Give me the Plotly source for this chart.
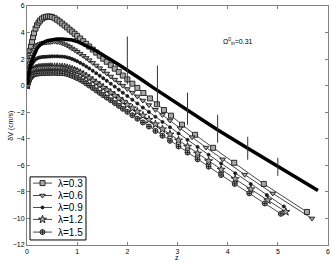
import plotly.graph_objects as go

# shared early sampling of z (dense near the origin)
z_early = [0, 0.01, 0.02, 0.03, 0.04, 0.05, 0.065, 0.08, 0.1, 0.12, 0.14, 0.17, 0.2, 0.23,
           0.26, 0.3, 0.34, 0.38, 0.42, 0.46, 0.5, 0.55, 0.6, 0.65, 0.7, 0.75, 0.8, 0.85,
           0.9, 0.95, 1.0, 1.06, 1.12, 1.18, 1.24, 1.31, 1.38, 1.45, 1.52, 1.59, 1.67,
           1.75, 1.83, 1.91]

# lambda = 0.3
z_03_tail = [2.0, 2.1, 2.2, 2.32, 2.45, 2.59, 2.73, 2.87, 3.09, 3.35, 3.71, 4.13, 4.72, 5.58]
dv_03 = [0, 0.6, 1.1, 1.55, 1.95, 2.25, 2.65, 2.95, 3.3, 3.65, 3.95, 4.3, 4.55, 4.75,
         4.9, 5.05, 5.14, 5.19, 5.21, 5.2, 5.17, 5.08, 4.96, 4.83, 4.68, 4.53, 4.38, 4.22,
         4.07, 3.91, 3.75, 3.55, 3.35, 3.15, 2.95, 2.72, 2.49, 2.26, 2.03, 1.8, 1.54,
         1.28, 1.02, 0.76,
         0.47, 0.15, -0.17, -0.55, -0.96, -1.40, -1.83, -2.26, -2.94, -3.7, -4.68, -5.81, -7.4, -9.51]

# lambda = 0.6
z_06_tail = [2.0, 2.1, 2.2, 2.31, 2.43, 2.56, 2.7, 2.85, 3.05, 3.29, 3.57, 3.9, 4.34, 4.9, 5.68]
dv_06 = [0, 0.45, 0.85, 1.18, 1.45, 1.68, 1.95, 2.17, 2.4, 2.58, 2.72, 2.88, 3.0, 3.08,
         3.14, 3.2, 3.24, 3.25, 3.27, 3.28, 3.31, 3.32, 3.3, 3.26, 3.2, 3.12, 3.03, 2.92,
         2.8, 2.68, 2.56, 2.41, 2.25, 2.09, 1.92, 1.72, 1.52, 1.32, 1.12, 0.92, 0.69,
         0.46, 0.23, 0.0,
         -0.25, -0.53, -0.81, -1.12, -1.46, -1.82, -2.2, -2.62, -3.2, -3.88, -4.66, -5.55, -6.7, -8.12, -10.0]

# lambda = 0.9
z_09_tail = [2.0, 2.1, 2.2, 2.31, 2.43, 2.56, 2.7, 2.85, 3.02, 3.2, 3.4, 3.62, 3.87, 4.15, 4.46, 4.78, 5.12]
dv_09 = [0, 0.3, 0.55, 0.77, 0.95, 1.1, 1.3, 1.46, 1.63, 1.76, 1.86, 1.97, 2.05, 2.1,
         2.13, 2.16, 2.17, 2.18, 2.19, 2.2, 2.21, 2.21, 2.21, 2.2, 2.19, 2.17, 2.13, 2.08,
         2.01, 1.93, 1.84, 1.72, 1.59, 1.45, 1.3, 1.12, 0.94, 0.75, 0.56, 0.37, 0.15,
         -0.07, -0.3, -0.53,
         -0.78, -1.06, -1.34, -1.65, -1.98, -2.34, -2.73, -3.14, -3.6, -4.08, -4.61, -5.2, -5.86, -6.6, -7.41, -8.24, -9.1]

# lambda = 1.2
z_12_tail = [2.0, 2.1, 2.2, 2.31, 2.43, 2.56, 2.7, 2.85, 3.02, 3.2, 3.4, 3.62, 3.87, 4.15, 4.46, 4.8, 5.16]
dv_12 = [0, 0.2, 0.36, 0.5, 0.62, 0.72, 0.85, 0.95, 1.06, 1.14, 1.2, 1.27, 1.31, 1.34,
         1.36, 1.38, 1.39, 1.4, 1.4, 1.41, 1.41, 1.41, 1.41, 1.4, 1.39, 1.37, 1.33, 1.28,
         1.22, 1.15, 1.07, 0.96, 0.84, 0.71, 0.56, 0.38, 0.2, 0.02, -0.16, -0.34, -0.55,
         -0.76, -0.98, -1.2,
         -1.44, -1.7, -1.96, -2.25, -2.57, -2.91, -3.28, -3.67, -4.12, -4.59, -5.11, -5.68, -6.32, -7.03, -7.8, -8.63, -9.5]

# lambda = 1.5
z_15_tail = [2.0, 2.1, 2.2, 2.31, 2.43, 2.56, 2.7, 2.85, 3.02, 3.2, 3.4, 3.62, 3.87, 4.14, 4.43, 4.74, 5.06]
dv_15 = [0, 0.13, 0.24, 0.34, 0.42, 0.49, 0.58, 0.66, 0.74, 0.8, 0.84, 0.88, 0.91, 0.92,
         0.93, 0.94, 0.95, 0.95, 0.96, 0.96, 0.96, 0.96, 0.95, 0.95, 0.94, 0.92, 0.87, 0.81,
         0.74, 0.66, 0.57, 0.45, 0.32, 0.17, 0.01, -0.17, -0.36, -0.54, -0.72, -0.9, -1.1,
         -1.31, -1.52, -1.74,
         -1.97, -2.23, -2.49, -2.77, -3.08, -3.41, -3.77, -4.15, -4.58, -5.04, -5.55, -6.1, -6.73, -7.4, -8.11, -8.87, -9.65]

# thick reference curve
z_ref = [0, 0.03, 0.06, 0.1, 0.15, 0.2, 0.25, 0.3, 0.4, 0.5, 0.6, 0.7, 0.8, 0.9, 1.0, 1.1,
         1.2, 1.3, 1.4, 1.5, 1.6, 1.7, 1.8, 1.9, 2.0, 2.25, 2.5, 3.0, 3.5, 3.78, 4.4, 5.0, 5.4, 5.8]
dv_ref = [0, 0.8, 1.4, 1.95, 2.45, 2.8, 3.03, 3.2, 3.38, 3.47, 3.51, 3.52, 3.5, 3.44, 3.33,
          3.17, 2.98, 2.78, 2.58, 2.36, 2.13, 1.9, 1.65, 1.4, 1.17, 0.54, -0.11, -1.35, -2.58,
          -3.28, -4.72, -6.1, -7.02, -7.9]

# vertical bars
bar_z = [2.0, 2.6, 3.2, 3.8, 4.4, 5.0]
bar_lo = [0.1, -1.51, -2.94, -4.3, -5.58, -6.79]
bar_hi = [3.7, 1.51, -0.53, -2.19, -3.85, -5.43]

x_ticks = [0, 1, 2, 3, 4, 5, 6]
y_ticks = [-12, -10, -8, -6, -4, -2, 0, 2, 4, 6]

labels = ["λ=0.3", "λ=0.6", "λ=0.9", "λ=1.2", "λ=1.5"]
series = [(z_03_tail, dv_03, "square", 5),
          (z_06_tail, dv_06, "triangle-down", 5),
          (z_09_tail, dv_09, "circle", 3),
          (z_12_tail, dv_12, "star", 6),
          (z_15_tail, dv_15, "circle-cross", 5)]

INK = "#1a1a1a"
FILL = "#a8a8a8"

fig = go.Figure()

for lab, (tail, dv, sym, sz) in zip(labels, series):
    fig.add_trace(go.Scatter(
        x=z_early + tail, y=dv, mode="lines+markers", name=lab, showlegend=False,
        line=dict(color=INK, width=0.8),
        marker=dict(symbol=sym, size=sz, color=INK if sym == "circle" else FILL,
                    line=dict(color=INK, width=0.9)),
    ))

fig.add_trace(go.Scatter(x=z_ref, y=dv_ref, mode="lines", showlegend=False,
                         line=dict(color="black", width=3.5)))

bx, by = [], []
for z, lo, hi in zip(bar_z, bar_lo, bar_hi):
    bx += [z, z, None]
    by += [lo, hi, None]
fig.add_trace(go.Scatter(x=bx, y=by, mode="lines", showlegend=False,
                         line=dict(color="#333", width=1)))

# compact legend drawn on an overlay axis in box coordinates
leg_x0, leg_x1 = 0.01, 0.196
leg_y0, leg_y1 = 0.021, 0.285
row_y = [0.259, 0.207, 0.157, 0.107, 0.054]
for lab, (tail, dv, sym, sz), ry in zip(labels, series, row_y):
    fig.add_trace(go.Scatter(
        x=[0.02, 0.0515, 0.083], y=[ry, ry, ry], xaxis="x2", yaxis="y2",
        mode="lines", showlegend=False, hoverinfo="skip",
        line=dict(color=INK, width=0.8)))
    fig.add_trace(go.Scatter(
        x=[0.0515], y=[ry], xaxis="x2", yaxis="y2", mode="markers",
        showlegend=False, hoverinfo="skip",
        marker=dict(symbol=sym, size=sz, color=INK if sym == "circle" else FILL,
                    line=dict(color=INK, width=0.9))))
    fig.add_annotation(x=0.097, y=ry, xref="paper", yref="paper", text=lab,
                       showarrow=False, xanchor="left", yanchor="middle",
                       font=dict(size=10, color="black"))

fig.add_shape(type="rect", xref="paper", yref="paper",
              x0=leg_x0, x1=leg_x1, y0=leg_y0, y1=leg_y1,
              line=dict(color="black", width=1), fillcolor="rgba(0,0,0,0)", layer="above")

fig.add_annotation(x=4.2, y=3.35, xref="x", yref="y", showarrow=False,
                   text="Ω<sup>0</sup><sub>in</sub>=0.31",
                   font=dict(size=7, color="black"))

# axis titles
fig.add_annotation(x=0.498, y=-0.054, xref="paper", yref="paper", text="z",
                   showarrow=False, yanchor="middle", font=dict(size=7, color="black"))
fig.add_annotation(x=-0.056, y=0.5, xref="paper", yref="paper", text="δV (cm/s)",
                   showarrow=False, textangle=-90, xanchor="center",
                   font=dict(size=7, color="black"))

axis_common = dict(showline=True, linecolor="#808080", linewidth=1, mirror="ticks",
                   ticks="inside", ticklen=3, tickcolor="#808080", showgrid=False,
                   zeroline=False, tickfont=dict(size=7, color="black"),
                   automargin=False, ticklabeloverflow="allow")

fig.update_xaxes(range=[0, 6], tickvals=x_ticks, **axis_common)
fig.update_yaxes(range=[-12, 6], tickvals=y_ticks, **axis_common)

fig.update_layout(
    width=332, height=263,
    margin=dict(l=27, r=4, t=6, b=18),
    paper_bgcolor="white", plot_bgcolor="white",
    font=dict(family="Liberation Sans, Arial, sans-serif", color="black"),
    showlegend=False,
    hovermode=False,
    xaxis2=dict(overlaying="x", range=[0, 1], visible=False, domain=[0, 1], anchor="y2"),
    yaxis2=dict(overlaying="y", range=[0, 1], visible=False, domain=[0, 1], anchor="x2"),
)

fig.write_html("out.html", config={"displayModeBar": False, "staticPlot": True},
               post_script="document.body.style.margin='0';document.body.style.padding='0';")
